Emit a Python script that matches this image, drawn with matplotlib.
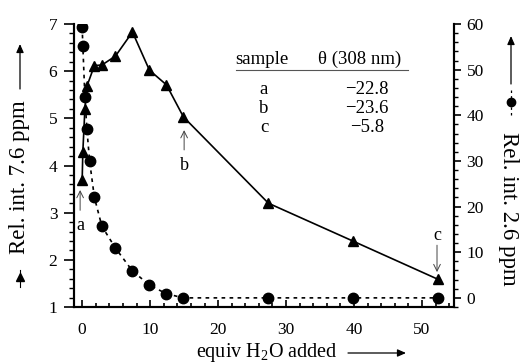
import numpy as np
import matplotlib
matplotlib.use("Agg")
import matplotlib.pyplot as plt
from matplotlib.lines import Line2D
from matplotlib.patches import FancyArrowPatch
from matplotlib.ticker import MultipleLocator

plt.rcParams["font.family"] = ["Liberation Serif", "DejaVu Serif"]
plt.rcParams["mathtext.fontset"] = "custom"
plt.rcParams["mathtext.rm"] = "Liberation Serif"
plt.rcParams["font.size"] = 12

# Rel. int. 7.6 ppm (triangles, left axis)
tri_x = [0.0, 0.1, 0.4, 0.7, 1.8, 2.9, 4.9, 7.4, 9.9, 12.4, 14.9, 27.4, 39.8, 52.3]
tri_y = [3.69, 4.29, 5.20, 5.68, 6.12, 6.13, 6.32, 6.83, 6.02, 5.71, 5.03, 3.20, 2.40, 1.59]

# Rel. int. 2.6 ppm (circles, right axis)
dot_x = [0.0, 0.1, 0.4, 0.7, 1.1, 1.8, 2.9, 4.9, 7.4, 9.9, 12.4, 14.9, 27.4, 39.8, 52.3]
dot_y = [59.4, 55.2, 44.1, 36.9, 29.9, 22.0, 15.7, 10.9, 5.9, 2.8, 0.9, 0.0, 0.0, 0.0, 0.0]

samples = ["a", "b", "c"]
theta = ["\u221222.8", "\u221223.6", "\u22125.8"]

W, H = 520, 363


def fx(px):
    return px / W


def fy(py):
    return 1 - py / H


def fig_arrow(fig, p0, p1):
    fig.patches.append(FancyArrowPatch(
        (fx(p0[0]), fy(p0[1])), (fx(p1[0]), fy(p1[1])), transform=fig.transFigure,
        arrowstyle="-|>,head_length=5,head_width=2.2", lw=0.9, color="black",
        shrinkA=0, shrinkB=0))


fig = plt.figure(figsize=(5.2, 3.63), dpi=100)
ax = fig.add_axes([fx(74), fy(307), fx(454) - fx(74), fy(24) - fy(307)])
ax2 = ax.twinx()

ax.plot(tri_x, tri_y, color="black", lw=1.2, marker="^", ms=7, zorder=3)
ax2.plot(dot_x, dot_y, color="black", lw=1.2, ls=(0, (2.2, 2.6)), marker="o", ms=7.5, zorder=3)

ax.set_xlim(-1.2, 54.7)
ax.set_ylim(1, 7)
ax2.set_ylim(-2, 60)

ax.xaxis.set_major_locator(MultipleLocator(10))
ax.xaxis.set_minor_locator(MultipleLocator(2))
ax.yaxis.set_major_locator(MultipleLocator(1))
ax.yaxis.set_minor_locator(MultipleLocator(0.2))
ax2.yaxis.set_major_locator(MultipleLocator(10))
ax2.yaxis.set_minor_locator(MultipleLocator(2))

for a in (ax, ax2):
    a.spines["top"].set_visible(False)
    for s in ("left", "right", "bottom"):
        a.spines[s].set_linewidth(1.5)

ax.tick_params(axis="x", which="major", direction="in", length=5, width=1.2, pad=11, labelsize=12.5)
ax.tick_params(axis="x", which="minor", direction="in", length=3, width=1.2)
ax.tick_params(axis="y", which="major", direction="out", length=7, width=1.2, pad=5, labelsize=12.5)
ax.tick_params(axis="y", which="minor", direction="out", length=3.5, width=1.0)
ax2.tick_params(axis="y", which="major", direction="out", length=5, width=1.2, pad=4, labelsize=12.5)
ax2.tick_params(axis="y", which="minor", direction="out", length=3, width=1.0)

# sample labels with arrows
arrow_kw = dict(arrowstyle="->", lw=0.7, color="#444444", shrinkA=0, shrinkB=0)
ax.annotate("", xy=(-0.3, 3.48), xytext=(-0.3, 3.05), arrowprops=arrow_kw)
ax.text(-0.3, 2.72, "a", ha="center", va="center", fontsize=13)
ax.annotate("", xy=(15.0, 4.75), xytext=(15.0, 4.33), arrowprops=arrow_kw)
ax.text(15.0, 3.99, "b", ha="center", va="center", fontsize=13)
ax.annotate("", xy=(52.2, 1.74), xytext=(52.2, 2.31), arrowprops=arrow_kw)
ax.text(52.2, 2.52, "c", ha="center", va="center", fontsize=13)

# inset table
fig.text(fx(262), fy(59), "sample", ha="center", va="center", fontsize=13.5)
fig.text(fx(360), fy(59), "\u03b8 (308 nm)", ha="center", va="center", fontsize=13.5)
fig.add_artist(Line2D([fx(236), fx(408)], [fy(70), fy(70)], color="#555555", lw=0.8))
for i, (s, t) in enumerate(zip(samples, theta)):
    yy = fy(89 + 19.5 * i)
    fig.text(fx(264), yy, s, ha="center", va="center", fontsize=13.5)
    fig.text(fx(367), yy, t, ha="center", va="center", fontsize=13.5)

# left axis label with marker and arrow
fig.text(fx(20), fy(177), "Rel. int. 7.6 ppm", rotation=90, ha="center", va="center", fontsize=16.5)
fig.add_artist(Line2D([fx(20), fx(20)], [fy(270), fy(287)], color="black", lw=0.8))
fig.add_artist(Line2D([fx(20)], [fy(277)], marker="^", ms=6, color="black"))
fig_arrow(fig, (20, 89), (20, 44))

# right axis label with marker and arrow
fig.text(fx(508), fy(209), "Rel. int. 2.6 ppm", rotation=-90, ha="center", va="center", fontsize=16.5)
fig.add_artist(Line2D([fx(511), fx(511)], [fy(90), fy(115)], color="black", lw=0.9, ls=(0, (2, 2.5))))
fig.add_artist(Line2D([fx(511)], [fy(102)], marker="o", ms=6, color="black"))
fig_arrow(fig, (511, 84), (511, 36))

# x label with arrow
fig.text(fx(267), fy(353), "equiv H$_\\mathrm{2}$O added", ha="center", va="center", fontsize=14.5)
fig_arrow(fig, (348, 353), (406, 353))

fig.savefig("out.png", dpi=100)
